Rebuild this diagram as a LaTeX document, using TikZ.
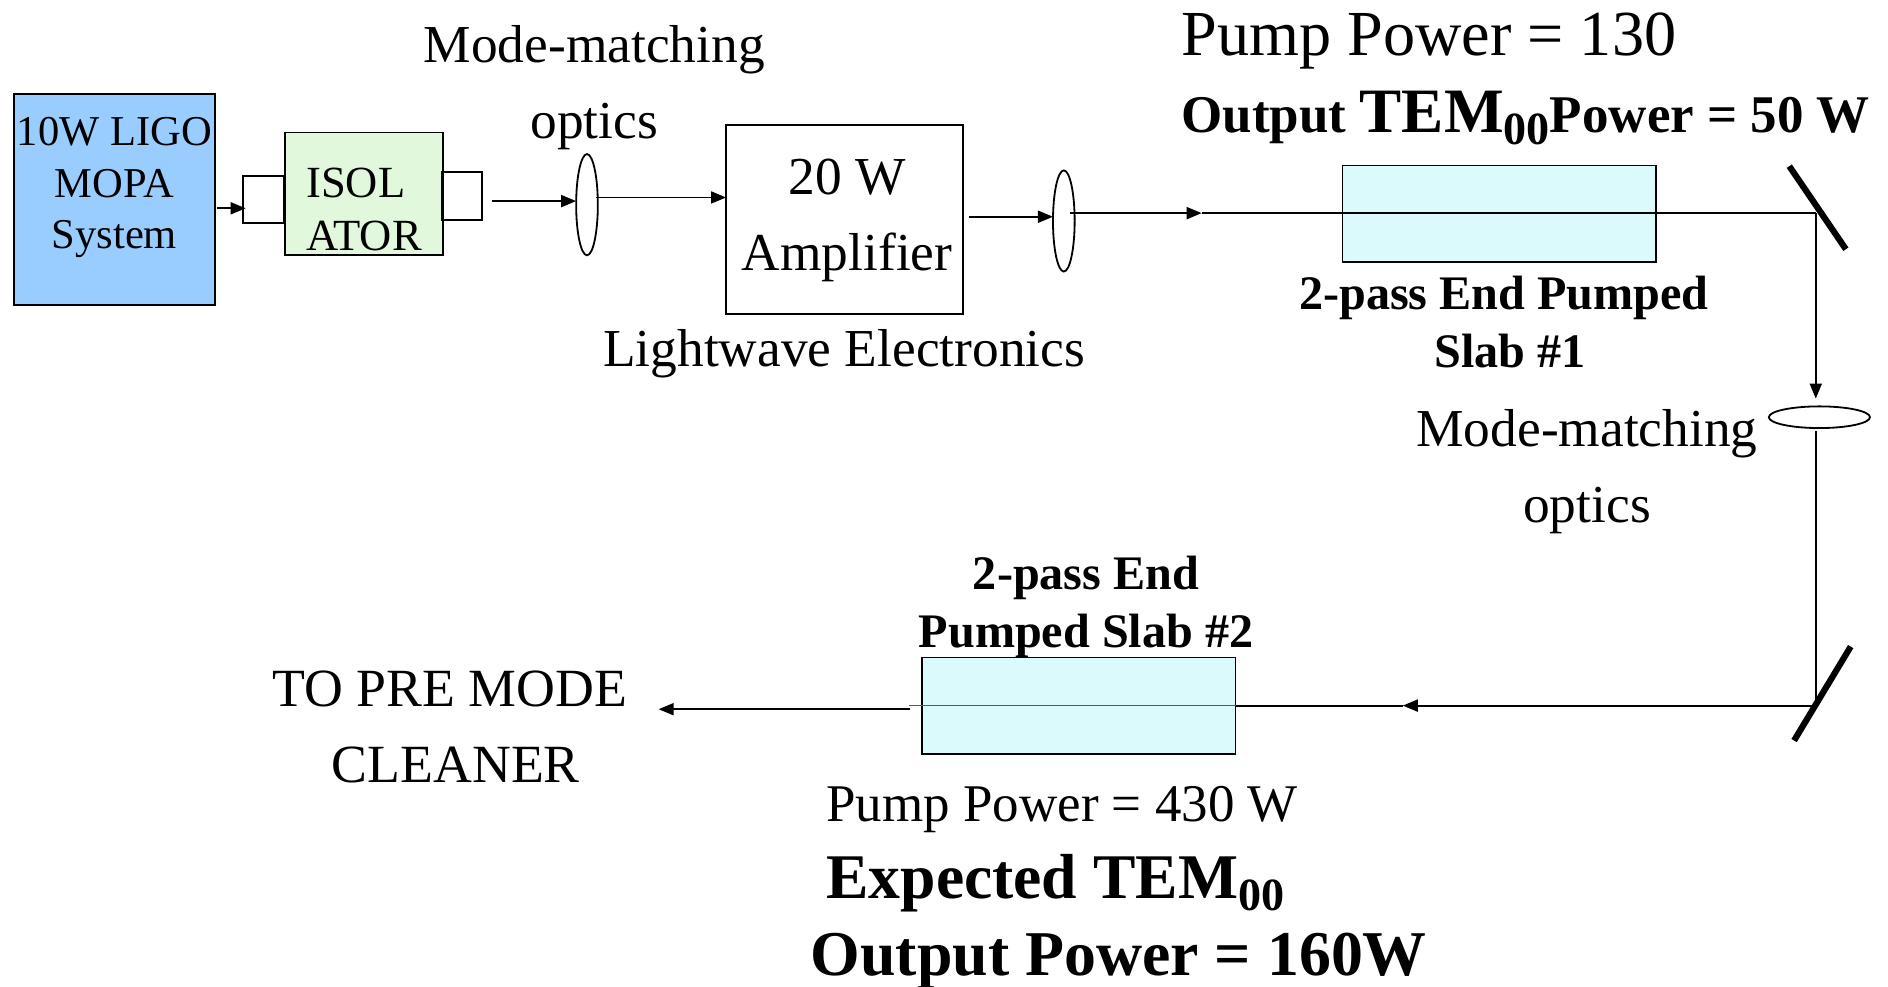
\documentclass[tikz,border=0pt]{standalone}
\usepackage{fontspec}
\setmainfont{Liberation Serif}
\usetikzlibrary{calc,positioning,arrows.meta,shapes.geometric}
\definecolor{mopablue}{HTML}{99CCFF}
\definecolor{isogreen}{HTML}{E2F8DD}
\definecolor{slabcyan}{HTML}{DBFAFC}
\newcommand{\fsize}[1]{\fontsize{#1}{1.2\dimexpr#1pt\relax}\selectfont}
\newcommand{\subnull}{\raisebox{-6pt}{\fontsize{23}{23}\selectfont 00}}
\tikzset{
	beam/.style={line width=0.9pt},
	part/.style={draw,line width=0.9pt,inner sep=0pt,align=center},
	lens/.style={draw,ellipse,line width=0.9pt,inner sep=0pt,fill=white},
	mirror/.style={line width=3.1pt},
	txt/.style={anchor=base,inner sep=0pt,align=center,font=\fontsize{26.6}{38}\selectfont},
	boldtxt/.style={anchor=base,inner sep=0pt,align=center,font=\fontsize{24}{29}\selectfont\bfseries},
}
\begin{document}
\begin{tikzpicture}[x=0.6pt,y=-0.6pt,>={Triangle[length=7.5pt,width=6pt]}]
		\useasboundingbox (0,0) rectangle (1568,819);
		% boxes
		\node(mopa) [part,fill=mopablue,minimum width=100.2pt,minimum height=105pt] at (95,165.5) {};
		\node(mopatxt) [anchor=north,inner sep=0pt,align=center,font=\fontsize{21.2}{25.7}\selectfont] at (95,97) {10W LIGO\\MOPA\\System};
		\node(iso) [part,fill=isogreen,minimum width=78.6pt,minimum height=61.2pt] at (302.5,161) {};
		\node(isotxt) [anchor=base west,inner sep=0pt,align=left,font=\fontsize{22.2}{26.5}\selectfont] at (254,208) {ISOL\\ATOR};
		\node(isoin) [part,minimum width=20.4pt,minimum height=23.4pt] at (219,165.5) {};
		\node(isoout) [part,minimum width=19.8pt,minimum height=24pt] at (383.5,163) {};
		\node(amp) [part,minimum width=118.2pt,minimum height=94.2pt] at (701.5,182.5) {};
		\node(amptxt) [txt] at (703.5,225) {20 W\\Amplifier};
		\node(slabone) [part,fill=slabcyan,minimum width=156pt,minimum height=48pt] at (1245,177.5) {};
		\node(slabtwo) [part,fill=slabcyan,minimum width=156pt,minimum height=48pt] at (896,586) {};
		% lenses
		\node(lensa) [lens,minimum width=10.8pt,minimum height=50.4pt] at (487.5,170) {};
		\node(lensb) [lens,minimum width=10.8pt,minimum height=50.4pt] at (883.5,183.5) {};
		\node(lensc) [lens,minimum width=50.4pt,minimum height=10.8pt] at (1511,346.5) {};
		% free ends of the beam
		\coordinate(a0) at (180,173);
		\coordinate(a1) at (204,173);
		\coordinate(b0) at (409,167);
		\coordinate(b1) at (478.5,167);
		\coordinate(c0) at (495,164);
		\coordinate(c1) at (603,164);
		\coordinate(d0) at (805,180);
		\coordinate(d1) at (874.5,180);
		\coordinate(e0) at (889,177);
		\coordinate(e1) at (998,177);
		\coordinate(turnone) at (1508,177);
		\coordinate(f1) at (1508,331);
		\coordinate(g0) at (1508,358);
		\coordinate(turntwo) at (1508,586);
		\coordinate(h1) at (1165,586);
		\coordinate(i0) at (755,586);
		\coordinate(j0) at (756,589);
		\coordinate(j1) at (547,589);
		% mirrors
		\coordinate(ma) at (1486,138);
		\coordinate(mb) at (1533,207);
		\coordinate(mc) at (1537,537);
		\coordinate(md) at (1490,615);
		\draw[mirror] (ma) -- (mb);
		\draw[mirror] (mc) -- (md);
		% beam
		\path[beam]
			(a0) edge[->] (a1)
			(b0) edge[->] (b1)
			(c0) edge[->] (c1)
			(d0) edge[->] (d1)
			(e0) edge[->] (e1)
			(e1) edge (turnone)
			(turnone) edge[->] (f1)
			(g0) edge (turntwo)
			(turntwo) edge[->] (h1)
			(h1) edge (slabtwo.east)
			(j0) edge[->] (j1);
		\draw[line width=0.6pt,black!65] (slabtwo.east) -- (i0);
		% labels
		\node(pumpone) [anchor=base west,inner sep=0pt,font=\fsize{32}] at (981,46) {Pump Power = 130};
		\node(outone) [anchor=base west,inner sep=0pt,font=\fsize{26.4}\bfseries] at (981,110) {Output {\fsize{31.5}TEM}\subnull Power = 50 W};
		\node(modea) [txt] at (493.5,115) {Mode-matching\\optics};
		\node(light) [txt] at (701,304) {Lightwave Electronics};
		\node(slabonetxt) [boldtxt] at (1249,305) {2-pass End Pumped\\\hspace*{6pt}Slab \#1};
		\node(modeb) [txt] at (1318,434) {Mode-matching\\optics};
		\node(slabtwotxt) [boldtxt] at (902,538) {2-pass End\\Pumped Slab \#2};
		\node(topmc) [txt,font=\fontsize{26.8}{38}\selectfont] at (373.5,650) {TO PRE MODE\\\hspace*{6pt}CLEANER};
		\node(pumptwo) [anchor=base west,inner sep=0pt,font=\fsize{26.4}] at (686,682) {Pump Power = 430 W};
		\node(expect) [anchor=base west,inner sep=0pt,font=\fsize{31.7}\bfseries] at (686,746) {Expected TEM\subnull};
		\node(outtwo) [anchor=base west,inner sep=0pt,font=\fsize{31.8}\bfseries] at (673,810) {Output Power = 160W};
	\end{tikzpicture}
\end{document}
